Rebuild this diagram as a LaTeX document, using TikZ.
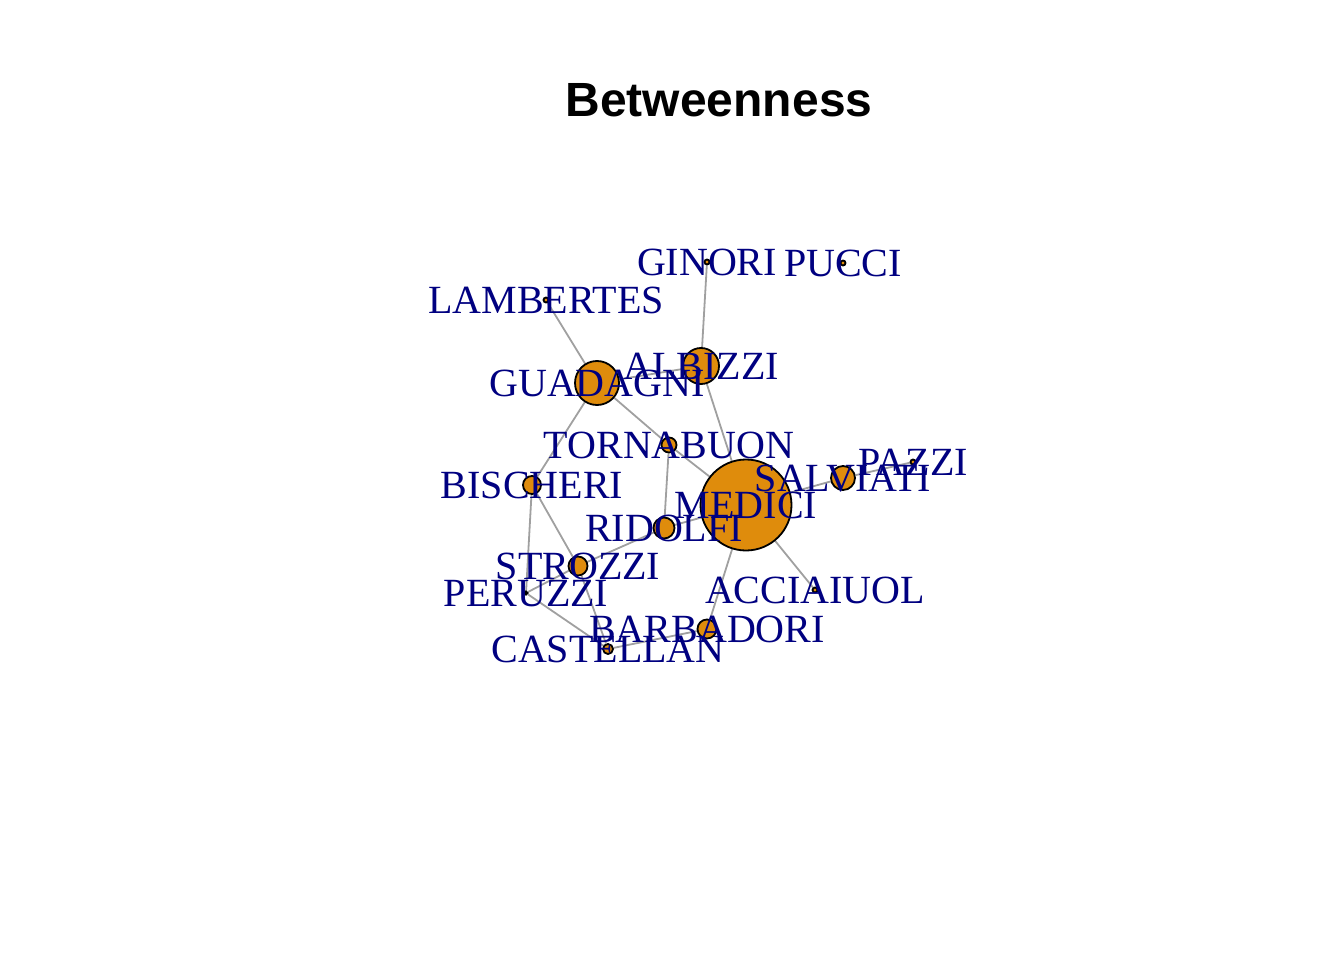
\documentclass[tikz,border=0pt]{standalone}
\usepackage{fontspec}
\setmainfont{Liberation Serif}
\newfontfamily\titlefont{Liberation Sans}
\usetikzlibrary{backgrounds}
\definecolor{famorange}{RGB}{223,140,12}
\definecolor{famnavy}{RGB}{0,0,128}
\definecolor{tiegray}{RGB}{160,160,160}
\tikzset{
    fam/.style={circle, draw=black, line width=1.8pt, fill=famorange, inner sep=0pt},
    famname/.style={text=famnavy, font=\fontsize{40}{40}\selectfont, inner sep=0pt,
                    text height=26.5pt, text depth=0pt},
    tie/.style={draw=tiegray, line width=1.8pt}
}

\begin{document}
\begin{tikzpicture}[x=1pt, y=-1pt]
            \useasboundingbox (0,0) rectangle (1344,960);

            % Title
            \node[font=\titlefont\bfseries\fontsize{48}{48}\selectfont, inner sep=0pt,
                  text height=34.4pt, text depth=0pt] (title) at (719,99) {Betweenness};

            % Families, circle size = betweenness
            \node[fam, minimum size=5pt] (ginori) at (707,262) {};
            \node[fam, minimum size=5pt] (pucci) at (843,263) {};
            \node[fam, minimum size=5pt] (lambertes) at (546,300) {};
            \node[fam, minimum size=36pt] (albizzi) at (701,366) {};
            \node[fam, minimum size=44pt] (guadagni) at (597,383) {};
            \node[fam, minimum size=15pt] (tornabuon) at (669,445) {};
            \node[fam, minimum size=91pt] (medici) at (746,505) {};
            \node[fam, minimum size=24pt] (salviati) at (843,478) {};
            \node[fam, minimum size=5pt] (pazzi) at (913,462) {};
            \node[fam, minimum size=18pt] (bischeri) at (532,485) {};
            \node[fam, minimum size=21pt] (ridolfi) at (664,528) {};
            \node[fam, minimum size=19pt] (strozzi) at (578,566) {};
            \node[fam, minimum size=3pt] (peruzzi) at (526,593) {};
            \node[fam, minimum size=5pt] (acciaiuol) at (815,590) {};
            \node[fam, minimum size=19pt] (barbadori) at (707,629) {};
            \node[fam, minimum size=10pt] (castellan) at (608,649) {};

            % Marriage ties
            \begin{scope}[on background layer]
                \draw[tie] (acciaiuol) -- (medici);
                \draw[tie] (albizzi) -- (ginori);
                \draw[tie] (albizzi) -- (guadagni);
                \draw[tie] (albizzi) -- (medici);
                \draw[tie] (barbadori) -- (castellan);
                \draw[tie] (barbadori) -- (medici);
                \draw[tie] (bischeri) -- (guadagni);
                \draw[tie] (bischeri) -- (peruzzi);
                \draw[tie] (bischeri) -- (strozzi);
                \draw[tie] (castellan) -- (peruzzi);
                \draw[tie] (castellan) -- (strozzi);
                \draw[tie] (guadagni) -- (lambertes);
                \draw[tie] (guadagni) -- (tornabuon);
                \draw[tie] (medici) -- (ridolfi);
                \draw[tie] (medici) -- (salviati);
                \draw[tie] (medici) -- (tornabuon);
                \draw[tie] (pazzi) -- (salviati);
                \draw[tie] (peruzzi) -- (strozzi);
                \draw[tie] (ridolfi) -- (strozzi);
                \draw[tie] (ridolfi) -- (tornabuon);
            \end{scope}

            % Names on top
            \node[famname] (ginori-l) at (ginori) {GINORI};
            \node[famname] (pucci-l) at (pucci) {PUCCI};
            \node[famname] (lambertes-l) at (lambertes) {LAMBERTES};
            \node[famname] (albizzi-l) at (albizzi) {ALBIZZI};
            \node[famname] (guadagni-l) at (guadagni) {GUADAGNI};
            \node[famname] (tornabuon-l) at (tornabuon) {TORNABUON};
            \node[famname] (medici-l) at (medici) {MEDICI};
            \node[famname] (salviati-l) at (salviati) {SALVIATI};
            \node[famname] (pazzi-l) at (pazzi) {PAZZI};
            \node[famname] (bischeri-l) at (bischeri) {BISCHERI};
            \node[famname] (ridolfi-l) at (ridolfi) {RIDOLFI};
            \node[famname] (strozzi-l) at (strozzi) {STROZZI};
            \node[famname] (peruzzi-l) at (peruzzi) {PERUZZI};
            \node[famname] (acciaiuol-l) at (acciaiuol) {ACCIAIUOL};
            \node[famname] (barbadori-l) at (barbadori) {BARBADORI};
            \node[famname] (castellan-l) at (castellan) {CASTELLAN};
        \end{tikzpicture}
\end{document}
